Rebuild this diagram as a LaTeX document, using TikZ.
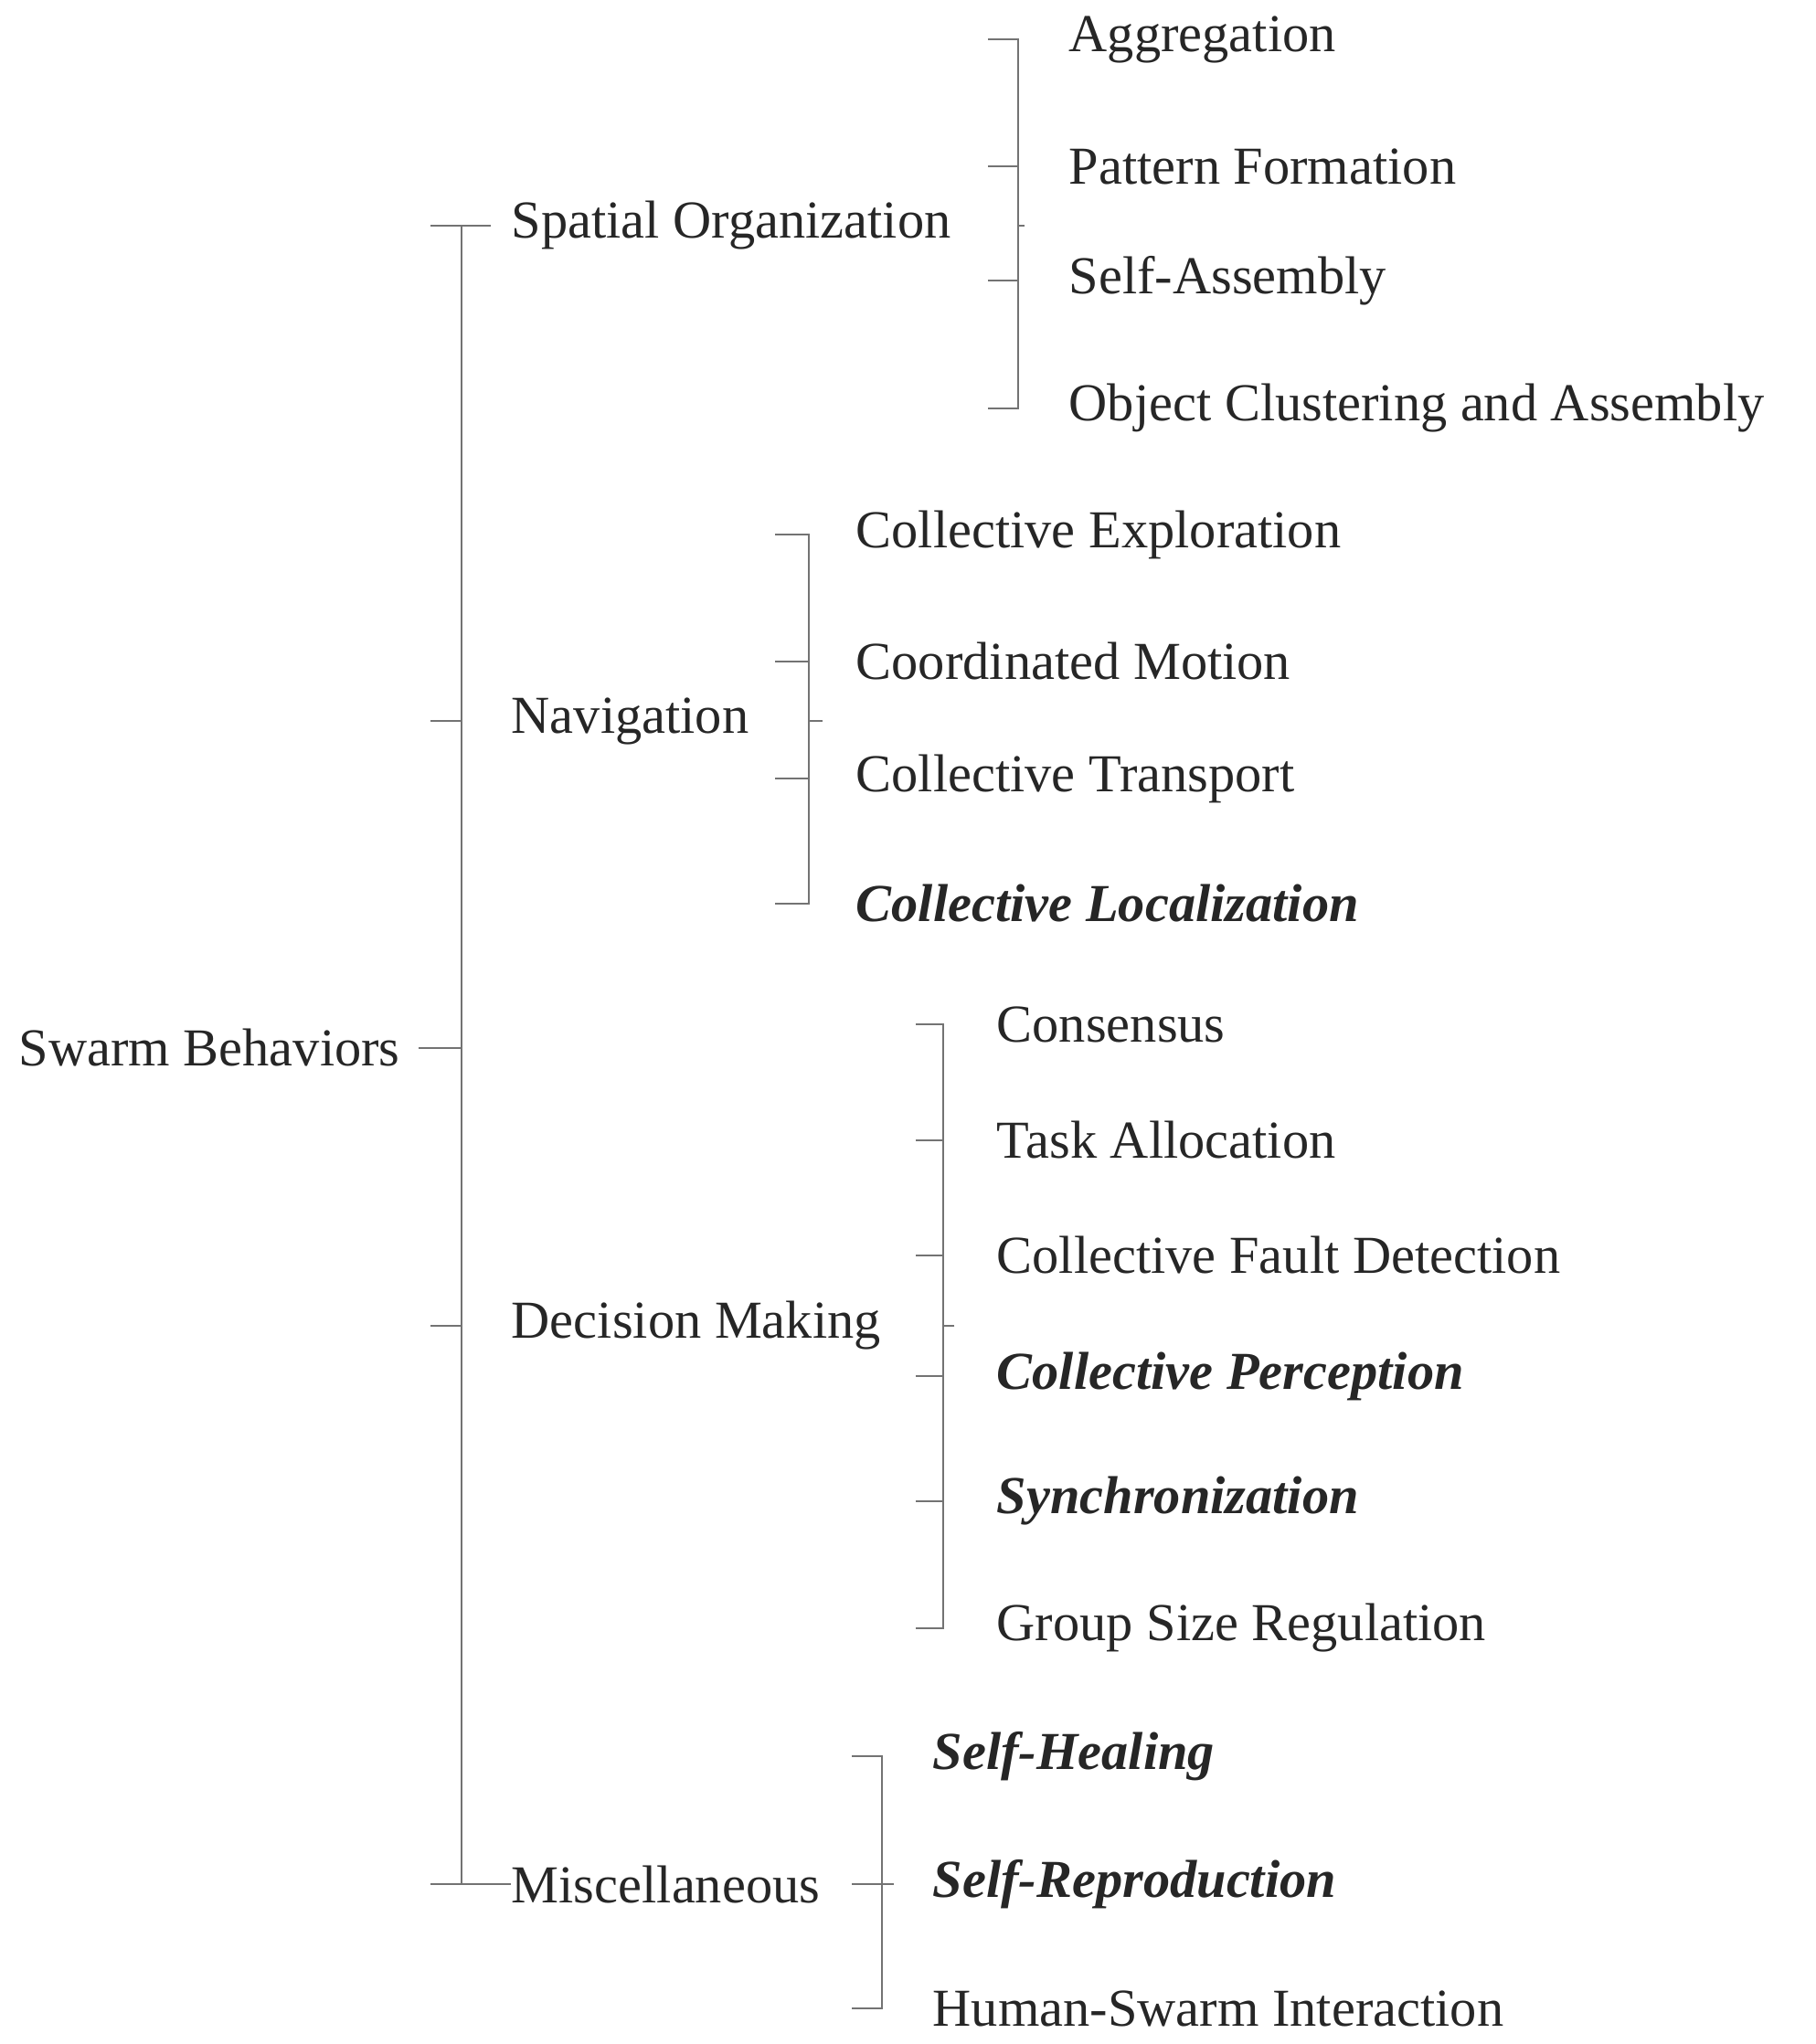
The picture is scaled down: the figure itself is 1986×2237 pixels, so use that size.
\documentclass[tikz,border=0pt]{standalone}
\usepackage{fontspec}
\setmainfont{Liberation Serif}
\begin{document}
\begin{tikzpicture}[x=0.25pt,y=-0.25pt,
  lbl/.style={anchor=west,inner sep=0pt,text=black!85,font=\fontsize{14.6}{17}\selectfont},
  hl/.style={lbl,font=\fontsize{14.6}{17}\selectfont\bfseries\itshape},
  ln/.style={draw=black!55,line width=0.6pt}]
\useasboundingbox (0,0) rectangle (1986,2237);
% root
\node[lbl] (root) at (20,1147) {Swarm Behaviors};
\node[lbl] (sp) at (559,247) {Spatial Organization};
\node[lbl] (nav) at (559,789) {Navigation};
\node[lbl] (dm) at (559,1451) {Decision Making};
\node[lbl] (misc) at (559,2062) {Miscellaneous};
\coordinate (t0) at (505,247); \coordinate (t1) at (505,2062);
\draw[ln] (root.east) ++(20,0) -- (505,1147);
\draw[ln] (sp.west) ++(-22,0) -| (t0) -- (t1) -- ++(0,0) -- (misc.west) ++(-22,0);
\draw[ln] (t0) -- ([xshift=-22]sp.west);
\draw[ln] (t1) -- ([xshift=-22]misc.west);
\draw[ln] (505,789) -- ([xshift=-22]nav.west);
\draw[ln] (505,1451) -- ([xshift=-22]dm.west);
% spatial
\node[lbl] (a1) at (1169,43) {Aggregation};
\node[lbl] (a2) at (1169,182) {Pattern Formation};
\node[lbl] (a3) at (1169,307) {Self-Assembly};
\node[lbl] (a4) at (1169,447) {Object Clustering and Assembly};
\draw[ln] ([xshift=20]sp.east) -- (1114,247);
\draw[ln] ([xshift=-22]a1.west) -| (1114,447) -- ([xshift=-22]a4.west);
\foreach \n in {a2,a3} \draw[ln] (1114,0 |- \n.west) -- ([xshift=-22]\n.west);
% navigation
\node[lbl] (b1) at (936,585) {Collective Exploration};
\node[lbl] (b2) at (936,724) {Coordinated Motion};
\node[lbl] (b3) at (936,852) {Collective Transport};
\node[hl] (b4) at (936,989) {Collective Localization};
\draw[ln] ([xshift=20]nav.east) -- (885,789);
\draw[ln] ([xshift=-22]b1.west) -| (885,989) -- ([xshift=-22]b4.west);
\foreach \n in {b2,b3} \draw[ln] (885,0 |- \n.west) -- ([xshift=-22]\n.west);
% decision
\node[lbl] (c1) at (1090,1121) {Consensus};
\node[lbl] (c2) at (1090,1248) {Task Allocation};
\node[lbl] (c3) at (1090,1374) {Collective Fault Detection};
\node[hl] (c4) at (1090,1506) {Collective Perception};
\node[hl] (c5) at (1090,1643) {Synchronization};
\node[lbl] (c6) at (1090,1782) {Group Size Regulation};
\draw[ln] ([xshift=20]dm.east) -- (1032,1451);
\draw[ln] ([xshift=-22]c1.west) -| (1032,1782) -- ([xshift=-22]c6.west);
\foreach \n in {c2,c3,c4,c5} \draw[ln] (1032,0 |- \n.west) -- ([xshift=-22]\n.west);
% misc
\node[hl] (d1) at (1020,1922) {Self-Healing};
\node[hl] (d2) at (1020,2062) {Self-Reproduction};
\node[lbl] (d3) at (1020,2198) {Human-Swarm Interaction};
\draw[ln] ([xshift=20]misc.east) -- (965,2062);
\draw[ln] ([xshift=-22]d1.west) -| (965,2198) -- ([xshift=-22]d3.west);
\draw[ln] (965,0 |- d2.west) -- ([xshift=-22]d2.west);
\end{tikzpicture}
\end{document}
